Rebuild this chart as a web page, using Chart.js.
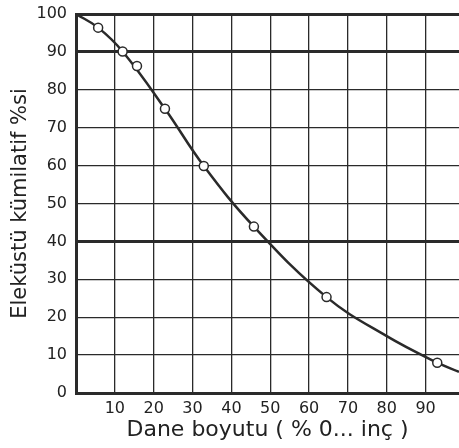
<!DOCTYPE html>
<html>
<head>
<meta charset="utf-8">
<script src="https://cdn.jsdelivr.net/npm/chart.js@4.4.0/dist/chart.umd.min.js"></script>
<style>
  html, body { margin: 0; padding: 0; background: #fff; }
</style>
</head>
<body>
<canvas id="chart" width="459" height="448"></canvas>
<script>
// measured points (open circles)
const markerX = [5.7, 12, 15.7, 22.9, 32.9, 45.8, 64.5, 93]
const markerY = [96.4, 90.1, 86.3, 75, 59.9, 43.9, 25.3, 8]

// hand drawn fitted curve
const curveX = [0, 5.7, 12, 22.9, 32.9, 45.8, 64.5, 80, 93, 98.6]
const curveY = [100, 96.4, 90.1, 75, 59.9, 43.9, 25.3, 15, 8, 5.6]

const xTicks = [0, 10, 20, 30, 40, 50, 60, 70, 80, 90]
const yTicks = [0, 10, 20, 30, 40, 50, 60, 70, 80, 90, 100]
const heavyY = [0, 40, 90, 100]

const xTitle = "Dane boyutu ( % 0... inç )"
const yTitle = "Eleküstü kümilatif %si"

const ink = "#2a2a2a"
const font = "'DejaVu Sans', sans-serif"

const whiteBg = {
  id: "whiteBg",
  beforeDraw(chart) {
    const c = chart.ctx
    c.save()
    c.fillStyle = "#fff"
    c.fillRect(0, 0, chart.width, chart.height)
    c.restore()
  }
}

new Chart(document.getElementById("chart"), {
  type: "line",
  data: {
    datasets: [
      {
        data: markerX.map((x, i) => ({ x: x, y: markerY[i] })),
        showLine: false,
        pointRadius: 4.5,
        pointBackgroundColor: "#fff",
        pointBorderColor: ink,
        pointBorderWidth: 1.5
      },
      {
        data: curveX.map((x, i) => ({ x: x, y: curveY[i] })),
        borderColor: ink,
        borderWidth: 2.5,
        pointRadius: 0,
        tension: 0.4
      }
    ]
  },
  options: {
    responsive: false,
    animation: false,
    layout: { autoPadding: false, padding: { top: 14, right: 0, left: 0, bottom: 0 } },
    plugins: {
      legend: { display: false },
      tooltip: { enabled: false }
    },
    scales: {
      x: {
        type: "linear",
        min: 0,
        max: 98.6,
        afterBuildTicks: (s) => { s.ticks = xTicks.map(v => ({ value: v })) },
        afterFit: (s) => { s.height = 55; s.paddingLeft = 0; s.paddingRight = 0 },
        grid: {
          color: ink,
          lineWidth: (ctx) => ctx.tick && ctx.tick.value === 0 ? 3 : 1.3,
          drawTicks: false
        },
        border: { display: true, color: ink, width: 3 },
        ticks: {
          color: "#222",
          font: { family: font, size: 16 },
          padding: 6,
          maxRotation: 0,
          callback: (v) => v === 0 ? "" : v
        },
        title: {
          display: true,
          text: xTitle,
          color: "#222",
          font: { family: font, size: 22 },
          padding: { top: 0, bottom: 5 }
        }
      },
      y: {
        min: 0,
        max: 100,
        afterBuildTicks: (s) => { s.ticks = yTicks.map(v => ({ value: v })) },
        afterFit: (s) => { s.width = 76; s.paddingTop = 0; s.paddingBottom = 0 },
        grid: {
          color: ink,
          lineWidth: (ctx) => ctx.tick && heavyY.includes(ctx.tick.value) ? 3 : 1.3,
          drawTicks: false
        },
        border: { display: true, color: ink, width: 3 },
        ticks: {
          color: "#222",
          font: { family: font, size: 16 },
          padding: 9
        },
        title: {
          display: true,
          text: yTitle,
          color: "#222",
          font: { family: font, size: 21 },
          padding: { top: 8, bottom: 0 }
        }
      }
    }
  },
  plugins: [whiteBg]
})
</script>
</body>
</html>
